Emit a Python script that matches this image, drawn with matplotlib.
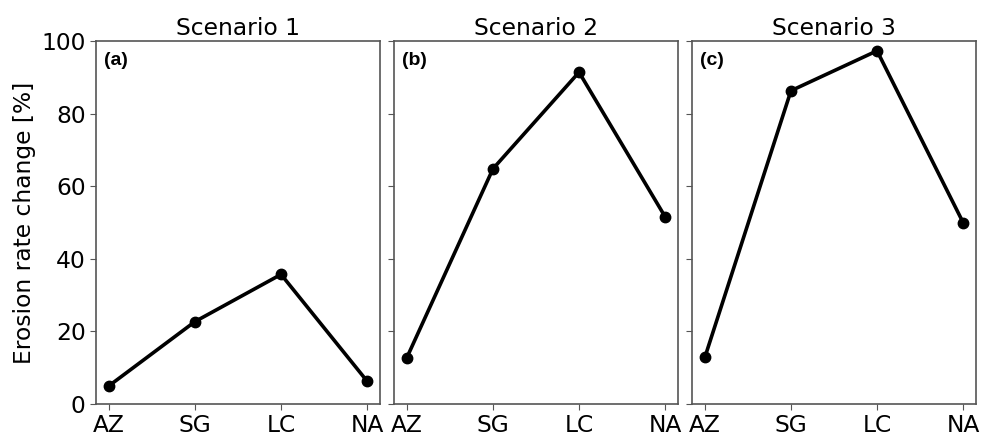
import matplotlib
matplotlib.use("Agg")
import matplotlib.pyplot as plt

sites = ["AZ", "SG", "LC", "NA"]
scenario_titles = ["Scenario 1", "Scenario 2", "Scenario 3"]
panel_tags = ["(a)", "(b)", "(c)"]
scenario1 = [5.0, 22.7, 35.7, 6.3]
scenario2 = [12.8, 64.8, 91.4, 51.6]
scenario3 = [12.9, 86.3, 97.3, 50.0]
yticks = [0, 20, 40, 60, 80, 100]

series = [scenario1, scenario2, scenario3]

fig = plt.figure(figsize=(9.81, 4.33), dpi=100)
lefts = [96, 394, 692]
width = 284
bottom, top = 404, 41
W, H = 981, 433
fs = 16.8

axes = []
for i, (vals, title, tag) in enumerate(zip(series, scenario_titles, panel_tags)):
    ax = fig.add_axes([lefts[i] / W, (H - bottom) / H, width / W, (bottom - top) / H])
    x = list(range(len(sites)))
    ax.plot(x, vals, color="black", linewidth=2.6, marker="o", markersize=7.5)
    ax.set_xlim(-0.15, 3.15)
    ax.set_ylim(0, 100)
    ax.set_xticks(x)
    ax.set_xticklabels(sites)
    ax.set_yticks(yticks)
    ax.tick_params(axis="both", labelsize=fs, color="#555555", length=4)
    if i > 0:
        ax.set_yticklabels([])
    ax.set_title(title, fontsize=fs, pad=4)
    ax.text(0.027, 0.97, tag, transform=ax.transAxes, fontsize=14,
            fontweight="bold", family="Liberation Sans", va="top", ha="left")
    for s in ax.spines.values():
        s.set_color("#555555")
        s.set_linewidth(1.2)
    axes.append(ax)

axes[0].set_ylabel("Erosion rate change [%]", fontsize=fs)

fig.savefig("out.png", dpi=100)
